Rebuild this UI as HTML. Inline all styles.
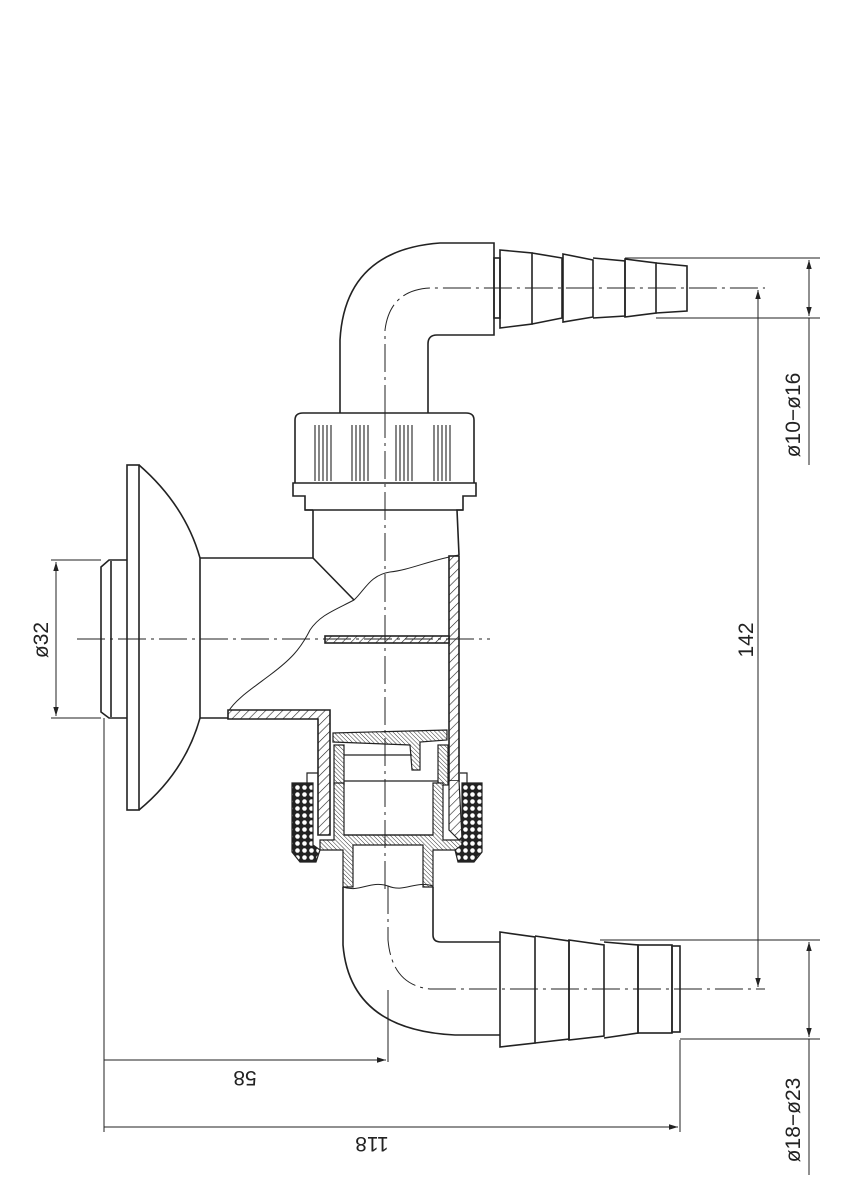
<!DOCTYPE html>
<html><head><meta charset="utf-8"><style>
html,body{margin:0;padding:0;background:#fff;}
svg{display:block;}
text{font-family:"Liberation Sans",sans-serif;fill:#222;}
</style></head><body>
<svg width="847" height="1200" viewBox="0 0 847 1200" xmlns="http://www.w3.org/2000/svg">
<defs>
<pattern id="h" width="6" height="6" patternUnits="userSpaceOnUse" patternTransform="rotate(45)"><rect width="6" height="6" fill="#fff"/><line x1="0" y1="0" x2="0" y2="6" stroke="#222" stroke-width="1.2"/></pattern>
<pattern id="hf" width="3" height="3" patternUnits="userSpaceOnUse" patternTransform="rotate(-45)"><rect width="3" height="3" fill="#fff"/><line x1="0" y1="0" x2="0" y2="3" stroke="#333" stroke-width="1"/></pattern>
<pattern id="x" width="7" height="7" patternUnits="userSpaceOnUse"><rect width="7" height="7" fill="#222"/><circle cx="3.5" cy="3.5" r="2.3" fill="#fff"/></pattern>
<marker id="a" viewBox="0 0 10 10" refX="10" refY="5" markerWidth="9" markerHeight="9" orient="auto-start-reverse" markerUnits="userSpaceOnUse"><path d="M0,2 L10,5 L0,8 z" fill="#222"/></marker>
</defs>
<g fill="none" stroke="#222" stroke-width="1.6">
<!-- flange -->
<rect x="127" y="465" width="12" height="345" fill="#fff"/>
<path d="M139,465 Q185,505 200,558 L200,718 Q185,772 139,810"/>
<path d="M127,560 L109,560 L101,567 L101,712 L109,718 L127,718"/>
<line x1="111" y1="561" x2="111" y2="717"/>
<!-- horizontal pipe -->
<path d="M200,558 L313,558 L313,510"/>
<path d="M313,558 L354,600"/>
<path d="M200,718 L228,718"/>
<!-- break line -->
<path d="M459,555 C430,560 410,570 390,572 C370,575 365,590 354,600 C335,610 320,615 310,630 C300,650 290,660 270,675 C250,690 235,700 228,712" stroke-width="1"/>
<!-- right wall hatched -->
<rect x="449" y="556" width="10" height="225" fill="url(#h)"/>
<!-- baffle -->
<rect x="325" y="636" width="124" height="7" fill="url(#h)"/>
<!-- lower L hatched -->
<path d="M228,710 L330,710 L330,835 L318,835 L318,719 L228,719 z" fill="url(#h)"/>
<!-- valve -->
<path d="M333,733 L447,730 L447,740 L420,742 L420,770 L412,770 L410,745 L333,742 z" fill="url(#hf)" stroke-width="1.2"/>
<rect x="334" y="745" width="10" height="40" fill="url(#hf)" stroke-width="1.2"/>
<rect x="438" y="745" width="10" height="40" fill="url(#hf)" stroke-width="1.2"/>
<line x1="344" y1="755" x2="412" y2="755" stroke-width="1.2"/>
<line x1="344" y1="781" x2="438" y2="781" stroke-width="1.2"/>
<path d="M344,783 L334,783 L334,840 L320,840 L320,850 L343,850 L343,887 L353,887 L353,845 L423,845 L423,887 L433,887 L433,850 L462,850 L462,840 L443,840 L443,783 L433,783 L433,835 L344,835 z" fill="url(#hf)" stroke-width="1.2"/>
<line x1="344" y1="835" x2="433" y2="835" stroke-width="1.2"/>
<!-- right wall continuing -->
<path d="M449,781 L449,830 L459,840 L462,838 L459,781" fill="url(#h)" stroke-width="1.2"/>
<!-- nut cross-hatched -->
<path d="M292,783 L313,783 L313,845 L320,850 L316,862 L300,862 L292,852 z" fill="url(#x)" stroke-width="1.2"/>
<path d="M462,783 L482,783 L482,852 L474,862 L458,862 L455,850 L462,845 z" fill="url(#x)" stroke-width="1.2"/>
<path d="M307,783 L307,773 L318,773" stroke-width="1.2"/>
<path d="M467,783 L467,773 L460,773" stroke-width="1.2"/>
<!-- bottom tube break -->
<path d="M343,887 C360,893 370,880 388,886 C405,893 415,880 433,886" stroke-width="1"/>
<!-- body upper -->
<path d="M313,510 L305,510 L305,496 L293,496 L293,483 L476,483 L476,496 L463,496 L463,510 L457,510 L459,555"/>
<line x1="305" y1="510" x2="463" y2="510"/>
<path d="M295,483 L295,420 Q295,413 303,413 L466,413 Q474,413 474,420 L474,483"/>
<!-- ribs -->
<g stroke-width="1.1">
<path d="M315,425V481M319,425V481M323,425V481M327,425V481M331,425V481"/>
<path d="M352,425V481M356,425V481M360,425V481M364,425V481M368,425V481"/>
<path d="M396,425V481M400,425V481M404,425V481M408,425V481M412,425V481"/>
<path d="M434,425V481M438,425V481M442,425V481M446,425V481M450,425V481"/>
</g>
<!-- top elbow -->
<path d="M340,413 L340,340 Q345,250 440,243 L494,243 L494,335 L437,335 Q428,335 428,344 L428,413"/>
<rect x="494" y="258" width="6" height="60"/>
<path d="M500,250 L532,253 L532,324 L500,328 z"/>
<path d="M532,253 L562,258 L562,318 L532,324"/>
<path d="M563,254 L593,260 L593,317 L563,322 z"/>
<path d="M593,258 L625,261 L625,316 L593,318"/>
<path d="M625,259 L656,263 L656,313 L625,317 z"/>
<path d="M656,263 L687,266 L687,311 L656,313"/>
<!-- bottom elbow -->
<path d="M343,887 L343,945 Q350,1030 455,1035 L500,1035"/>
<path d="M433,887 L433,935 Q433,942 441,942 L500,942"/>
<path d="M500,932 L535,937 L535,1043 L500,1047 z"/>
<path d="M535,936 L569,941 L569,1039 L535,1043"/>
<path d="M569,940 L604,945 L604,1036 L569,1040 z"/>
<path d="M604,942 L638,945 L638,1033 L604,1038"/>
<rect x="638" y="945" width="34" height="88"/>
<rect x="672" y="946" width="8" height="86"/>
</g>
<!-- centerlines -->
<g fill="none" stroke="#222" stroke-width="1" stroke-dasharray="28,5,3,5">
<line x1="77" y1="639" x2="490" y2="639"/>
<line x1="385" y1="410" x2="385" y2="890"/>
<path d="M385,413 L385,330 Q390,290 430,288 L765,288"/>
<path d="M388,886 L388,940 Q392,985 430,989 L765,989"/>
</g>
<!-- dimensions -->
<g fill="none" stroke="#222" stroke-width="1">
<line x1="51" y1="560" x2="101" y2="560"/><line x1="51" y1="718" x2="101" y2="718"/>
<line x1="56" y1="562" x2="56" y2="716" marker-start="url(#a)" marker-end="url(#a)"/>
<line x1="625" y1="258" x2="820" y2="258"/><line x1="656" y1="318" x2="820" y2="318"/>
<line x1="809" y1="260" x2="809" y2="316" marker-start="url(#a)" marker-end="url(#a)"/>
<line x1="809" y1="318" x2="809" y2="465"/>
<line x1="758" y1="290" x2="758" y2="987" marker-start="url(#a)" marker-end="url(#a)"/>
<line x1="600" y1="940" x2="820" y2="940"/><line x1="680" y1="1039" x2="820" y2="1039"/>
<line x1="809" y1="942" x2="809" y2="1037" marker-start="url(#a)" marker-end="url(#a)"/>
<line x1="809" y1="1039" x2="809" y2="1175"/>
<line x1="104" y1="718" x2="104" y2="1132"/>
<line x1="388" y1="990" x2="388" y2="1062"/>
<line x1="680" y1="1040" x2="680" y2="1132"/>
<line x1="104" y1="1060" x2="386" y2="1060" marker-end="url(#a)"/>
<line x1="104" y1="1127" x2="678" y2="1127" marker-end="url(#a)"/>
</g>
<g font-size="21">
<text transform="translate(48,640) rotate(-90)" text-anchor="middle">ø32</text>
<text transform="translate(800,415) rotate(-90)" text-anchor="middle">ø10−ø16</text>
<text transform="translate(753,640) rotate(-90)" text-anchor="middle">142</text>
<text transform="translate(800,1120) rotate(-90)" text-anchor="middle">ø18−ø23</text>
<text transform="translate(245,1071) rotate(180)" text-anchor="middle">58</text>
<text transform="translate(372,1137) rotate(180)" text-anchor="middle">118</text>
</g>
</svg>
</body></html>
